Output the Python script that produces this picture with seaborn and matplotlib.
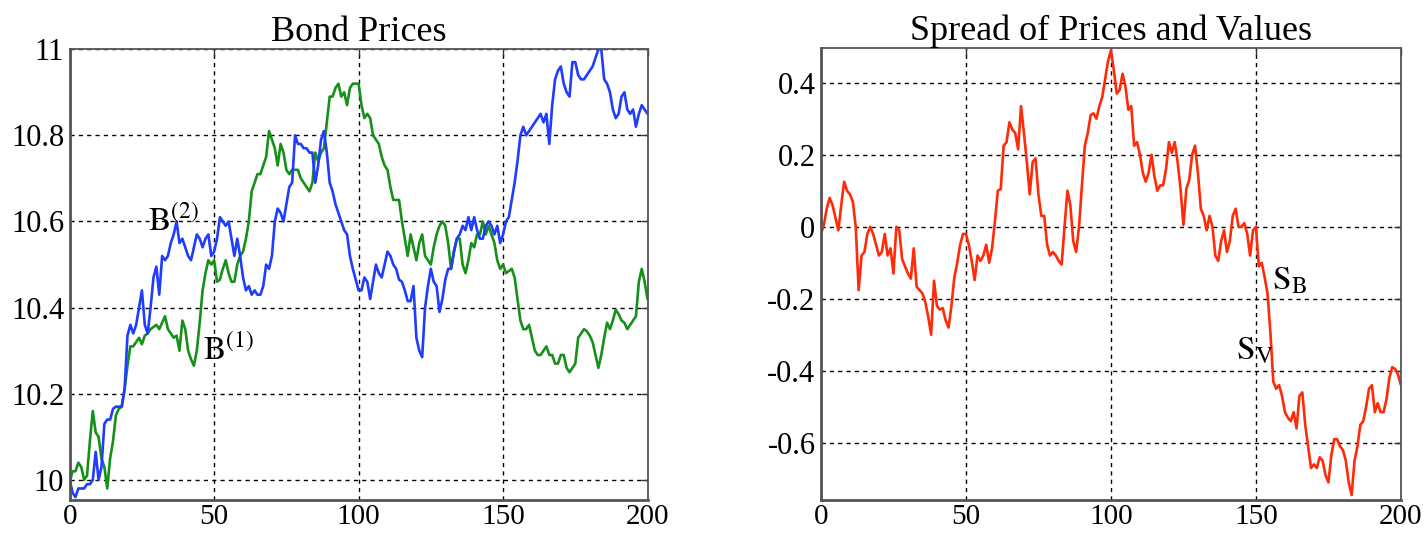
import numpy as np
import matplotlib
matplotlib.use("Agg")
import matplotlib.pyplot as plt
import seaborn as sns
import pandas as pd

# time steps
t = list(range(201))

# B(2) bond price path (blue)
b2 = [10.00, 9.97, 9.96, 9.98, 9.98, 9.98, 9.99, 9.99, 10.00, 10.065,
      10.00, 10.03, 10.13, 10.14, 10.14, 10.165, 10.17, 10.17, 10.17, 10.21,
      10.335, 10.36, 10.34, 10.36, 10.40, 10.44, 10.36, 10.34, 10.40, 10.47,
      10.495, 10.43, 10.52, 10.51, 10.52, 10.55, 10.57, 10.60, 10.55, 10.56,
      10.54, 10.52, 10.51, 10.54, 10.57, 10.56, 10.54, 10.56, 10.57, 10.52,
      10.53, 10.56, 10.61, 10.60, 10.59, 10.60, 10.56, 10.52, 10.56, 10.52,
      10.47, 10.44, 10.45, 10.43, 10.44, 10.43, 10.43, 10.45, 10.50, 10.49,
      10.52, 10.60, 10.63, 10.62, 10.60, 10.64, 10.68, 10.69, 10.80, 10.78,
      10.78, 10.77, 10.77, 10.76, 10.76, 10.69, 10.73, 10.79, 10.81, 10.76,
      10.69, 10.67, 10.64, 10.62, 10.60, 10.58, 10.57, 10.52, 10.49, 10.465,
      10.44, 10.44, 10.47, 10.46, 10.42, 10.46, 10.50, 10.48, 10.47, 10.50,
      10.53, 10.52, 10.50, 10.49, 10.465, 10.46, 10.44, 10.415, 10.415, 10.45,
      10.33, 10.30, 10.285, 10.40, 10.45, 10.49, 10.46, 10.45, 10.39, 10.42,
      10.465, 10.49, 10.49, 10.53, 10.56, 10.57, 10.59, 10.58, 10.61, 10.58,
      10.61, 10.58, 10.56, 10.56, 10.59, 10.60, 10.59, 10.57, 10.59, 10.55,
      10.57, 10.60, 10.61, 10.65, 10.69, 10.74, 10.80, 10.82, 10.80, 10.81,
      10.82, 10.83, 10.84, 10.85, 10.83, 10.85, 10.78, 10.87, 10.93, 10.95,
      10.96, 10.92, 10.90, 10.89, 10.97, 10.97, 10.94, 10.93, 10.93, 10.94,
      10.95, 10.96, 10.98, 11.00, 11.00, 10.93, 10.92, 10.90, 10.86, 10.84,
      10.85, 10.89, 10.90, 10.86, 10.85, 10.86, 10.82, 10.85, 10.87, 10.86,
      10.85]

# B(1) bond price path (green)
b1 = [9.995, 10.02, 10.02, 10.04, 10.03, 10.00, 10.01, 10.09, 10.16, 10.11,
      10.10, 10.05, 10.03, 9.98, 10.05, 10.09, 10.15, 10.165, 10.17, 10.21,
      10.265, 10.31, 10.31, 10.32, 10.33, 10.315, 10.335, 10.34, 10.35, 10.355,
      10.36, 10.35, 10.365, 10.38, 10.35, 10.34, 10.33, 10.335, 10.30, 10.37,
      10.35, 10.30, 10.28, 10.265, 10.30, 10.365, 10.44, 10.48, 10.51, 10.50,
      10.51, 10.46, 10.465, 10.49, 10.51, 10.48, 10.46, 10.46, 10.50, 10.52,
      10.53, 10.56, 10.60, 10.67, 10.69, 10.71, 10.71, 10.73, 10.75, 10.81,
      10.79, 10.77, 10.73, 10.78, 10.76, 10.72, 10.71, 10.72, 10.72, 10.72,
      10.70, 10.69, 10.68, 10.67, 10.69, 10.76, 10.74, 10.76, 10.77, 10.83,
      10.89, 10.89, 10.91, 10.92, 10.89, 10.90, 10.87, 10.91, 10.92, 10.92,
      10.92, 10.87, 10.84, 10.85, 10.84, 10.80, 10.79, 10.78, 10.75, 10.73,
      10.72, 10.68, 10.65, 10.65, 10.65, 10.60, 10.56, 10.52, 10.57, 10.54,
      10.51, 10.55, 10.57, 10.52, 10.51, 10.50, 10.54, 10.57, 10.59, 10.60,
      10.59, 10.55, 10.49, 10.53, 10.56, 10.56, 10.50, 10.48, 10.51, 10.55,
      10.54, 10.57, 10.57, 10.60, 10.57, 10.59, 10.57, 10.55, 10.51, 10.49,
      10.50, 10.48, 10.485, 10.49, 10.47, 10.42, 10.37, 10.35, 10.35, 10.36,
      10.33, 10.30, 10.29, 10.29, 10.30, 10.31, 10.29, 10.29, 10.27, 10.27,
      10.29, 10.29, 10.26, 10.25, 10.26, 10.27, 10.33, 10.34, 10.35, 10.345,
      10.335, 10.32, 10.29, 10.26, 10.29, 10.33, 10.365, 10.35, 10.37, 10.395,
      10.385, 10.37, 10.365, 10.35, 10.36, 10.37, 10.38, 10.46, 10.49, 10.46,
      10.42]

# spread of prices and values (red)
spread = [-0.02, 0.005, 0.05, 0.08, 0.06, 0.025, -0.01, 0.06, 0.125, 0.10,
          0.09, 0.07, 0.00, -0.176, -0.08, -0.07, -0.02, 0.00, -0.02, -0.05,
          -0.08, -0.07, -0.02, -0.08, -0.06, -0.13, 0.00, -0.01, -0.09, -0.11,
          -0.13, -0.144, -0.06, -0.167, -0.176, -0.185, -0.21, -0.25, -0.30, -0.15,
          -0.22, -0.23, -0.226, -0.26, -0.28, -0.22, -0.14, -0.10, -0.05, -0.02,
          -0.02, -0.05, -0.095, -0.148, -0.08, -0.095, -0.08, -0.05, -0.10, -0.06,
          0.015, 0.10, 0.105, 0.225, 0.235, 0.29, 0.27, 0.26, 0.215, 0.335,
          0.26, 0.18, 0.09, 0.18, 0.19, 0.09, 0.03, 0.03, -0.05, -0.08,
          -0.07, -0.08, -0.095, -0.105, 0.00, 0.10, 0.06, -0.04, -0.07, 0.00,
          0.115, 0.225, 0.26, 0.31, 0.315, 0.30, 0.335, 0.36, 0.41, 0.46,
          0.49, 0.435, 0.37, 0.38, 0.425, 0.39, 0.325, 0.335, 0.225, 0.235,
          0.20, 0.15, 0.125, 0.15, 0.20, 0.14, 0.10, 0.115, 0.115, 0.16,
          0.235, 0.205, 0.235, 0.18, 0.105, 0.005, 0.105, 0.13, 0.20, 0.225,
          0.15, 0.05, 0.03, -0.01, 0.03, 0.00, -0.08, -0.095, -0.04, -0.01,
          -0.07, -0.04, 0.03, 0.05, 0.00, 0.00, 0.01, -0.02, -0.08, -0.01,
          0.00, -0.11, -0.10, -0.14, -0.185, -0.295, -0.43, -0.45, -0.44, -0.47,
          -0.515, -0.53, -0.54, -0.515, -0.56, -0.47, -0.46, -0.55, -0.61, -0.67,
          -0.66, -0.67, -0.64, -0.65, -0.69, -0.71, -0.635, -0.59, -0.59, -0.61,
          -0.62, -0.65, -0.71, -0.745, -0.65, -0.61, -0.55, -0.54, -0.50, -0.45,
          -0.44, -0.515, -0.49, -0.515, -0.515, -0.48, -0.42, -0.39, -0.395, -0.41,
          -0.44]

left_yticks = [10, 10.2, 10.4, 10.6, 10.8, 11]
right_yticks = [0.4, 0.2, 0, -0.2, -0.4, -0.6]
xticks = [0, 50, 100, 150, 200]

sns.set_style("white")
plt.rcParams['font.family'] = ['Liberation Serif', 'DejaVu Serif']
plt.rcParams['mathtext.fontset'] = 'stix'
plt.rcParams['axes.unicode_minus'] = False
plt.rcParams['text.color'] = 'black'
plt.rcParams['axes.titlecolor'] = 'black'

prices = pd.DataFrame({'t': t, 'b1': b1, 'b2': b2})
spr = pd.DataFrame({'t': t, 'spread': spread})

fig = plt.figure(figsize=(14.25, 5.35), dpi=100)
ax1 = fig.add_axes([0.0489, 0.066, 0.4055, 0.842])
ax2 = fig.add_axes([0.5761, 0.066, 0.4070, 0.844])

sns.lineplot(data=prices, x='t', y='b1', ax=ax1, color='#17901a', lw=1.9)
sns.lineplot(data=prices, x='t', y='b2', ax=ax1, color='#1f3cff', lw=1.9)
sns.lineplot(data=spr, x='t', y='spread', ax=ax2, color='#ff2a08', lw=1.9)

ax1.set_ylim(9.954, 11.0)
ax1.set_yticks(left_yticks)
ax1.set_yticklabels(['%g' % v for v in left_yticks])
ax2.set_ylim(-0.758, 0.496)
ax2.set_yticks(right_yticks)
ax2.set_yticklabels(['%g' % v for v in right_yticks])

for ax, title in [(ax1, 'Bond Prices'), (ax2, 'Spread of Prices and Values')]:
    ax.set_xlim(0, 200)
    ax.set_xticks(xticks)
    ax.set_xlabel('')
    ax.set_ylabel('')
    ax.set_title(title, fontsize=26, pad=6)
    ax.grid(True, color='black', linestyle=(0, (3, 3)), lw=1.0)
    ax.tick_params(direction='in', length=5, width=1, labelsize=22,
                   top=True, right=True, pad=4, colors='#333333',
                   labelcolor='black')
    ax.tick_params(axis='x', labelsize=21, pad=3)
    for s in ax.spines.values():
        s.set_color('#555555')
        s.set_linewidth(1.3)
    ax.spines['left'].set_linewidth(2)
    ax.spines['bottom'].set_linewidth(2)

ax1.text(27, 10.6, r'$\mathrm{B}^{(2)}$', fontsize=24, va='center', ha='left')
ax1.text(46.3, 10.3, r'$\mathrm{B}^{(1)}$', fontsize=24, va='center', ha='left')
ax2.text(155.5, -0.15, r'$\mathrm{S}_{\mathrm{B}}$', fontsize=24, va='center', ha='left')
ax2.text(143, -0.345, r'$\mathrm{S}_{\mathrm{V}}$', fontsize=24, va='center', ha='left')

fig.savefig('out.png', dpi=100)
